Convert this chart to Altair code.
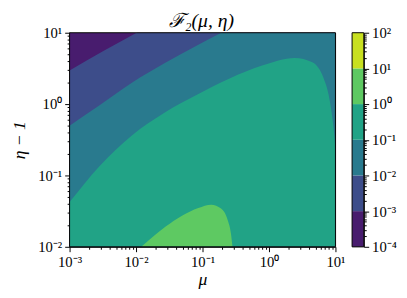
import altair as alt
import pandas as pd

# ---- data: contour lines of F2 as (mu, eta-1) ----
c3_mu = [0.001, 0.00327, 0.0102, 0.0316, 10.0]          # level 1e-3
c3_eta = [2.96, 5.6, 10.0, 18.0, 18.0]
c2_mu = [0.001, 0.00279, 0.00865, 0.0267, 0.0824, 0.192, 0.5, 10.0]   # level 1e-2
c2_eta = [0.499, 0.953, 1.99, 3.73, 6.64, 10.0, 15.8, 15.8]
c1_mu = [0.001, 0.00279, 0.00865, 0.0267, 0.0824, 0.255, 0.789, 2.44,
         4.48, 6.66, 7.89, 8.83, 9.66, 10.0]                   # level 1e-1
c1_eta = [0.0423, 0.134, 0.364, 0.757, 1.35, 2.28, 3.46, 4.42,
          3.85, 2.28, 1.35, 0.718, 0.345, 0.216]
c0_mu = [0.01197, 0.0279, 0.0491, 0.0865, 0.1355, 0.190, 0.239, 0.267, 0.282]  # level 1e0
c0_eta = [0.01, 0.0192, 0.0272, 0.035, 0.039, 0.0343, 0.0238, 0.0156, 0.01]
full_mu = [0.001, 10.0]
full_eta = [10.0, 10.0]

levels = [1e-4, 1e-3, 1e-2, 1e-1, 1e0, 1e1, 1e2]
band_colors = ["#481c6e", "#3d4d8a", "#297a8e", "#21a386", "#5ec962", "#c8e020"]

FONT = "Liberation Serif"
SUP = {-4: "⁻⁴", -3: "⁻³", -2: "⁻²", -1: "⁻¹", 0: "⁰", 1: "¹", 2: "²"}
W, H = 272, 219


def log_ticks(lo, hi):
    vals = []
    for d in range(lo, hi):
        for k in range(1, 10):
            vals.append(round(k * 10.0 ** d, 10))
    vals.append(10.0 ** hi)
    return vals


L = "log(datum.value)/LN10"
MAJOR = f"abs({L} - round({L})) < 0.01"
lab = "''"
for e, s in sorted(SUP.items(), reverse=True):
    lab = f"(round({L}) == {e} ? '10{s}' : {lab})"
LABEL_EXPR = f"{MAJOR} ? {lab} : ''"
TICK_SIZE = {"condition": {"test": MAJOR, "value": 5}, "value": 2.5}

common = dict(labelExpr=LABEL_EXPR, tickSize=TICK_SIZE, grid=False, labelFont=FONT,
              labelFontSize=15, titleFont=FONT, titleFontSize=18, titleFontStyle="italic",
              titleFontWeight="normal", labelColor="black", titleColor="black",
              tickColor="black", domainColor="black", labelPadding=3,
              labelFlush=False, labelOverlap=False)
xaxis = alt.Axis(values=log_ticks(-3, 1), title="μ", titlePadding=2, **common)
yaxis = alt.Axis(values=log_ticks(-2, 1), title="η − 1", titleX=-42, titleY=H / 2,
                 **common)


def frame(mu, eta):
    return pd.DataFrame({"mu": mu, "eta": eta, "base": [0.01] * len(mu)})


xscale = alt.Scale(type="log", domain=[1e-3, 10], nice=False)
yscale = alt.Scale(type="log", domain=[1e-2, 10], nice=False)


def band(mu, eta, color):
    return alt.Chart(frame(mu, eta)).mark_area(
        color=color, interpolate="monotone", clip=True, opacity=1
    ).encode(
        x=alt.X("mu:Q", scale=xscale, axis=xaxis),
        y=alt.Y("eta:Q", scale=yscale, axis=yaxis),
        y2="base:Q",
    )


border = alt.Chart(pd.DataFrame({"k": [0]})).mark_rect(
    fill=None, stroke="black", strokeWidth=1
).encode(x=alt.value(0), x2=alt.value(W), y=alt.value(0), y2=alt.value(H))

main = alt.layer(
    band(full_mu, full_eta, band_colors[0]),
    band(c3_mu, c3_eta, band_colors[1]),
    band(c2_mu, c2_eta, band_colors[2]),
    band(c1_mu, c1_eta, band_colors[3]),
    band(c0_mu, c0_eta, band_colors[4]),
    border,
).properties(width=W, height=H)

CBW = 12
cb_df = pd.DataFrame({"lo": levels[:-1], "hi": levels[1:], "c": band_colors})
cbar_rects = alt.Chart(cb_df).mark_rect().encode(
    y=alt.Y("lo:Q", scale=alt.Scale(type="log", domain=[1e-4, 1e2], nice=False),
            axis=alt.Axis(orient="right", values=log_ticks(-4, 2), labelExpr=LABEL_EXPR,
                          tickSize=TICK_SIZE, title=None, grid=False, labelFont=FONT,
                          labelFontSize=15, labelColor="black", tickColor="black",
                          domainColor="black", labelPadding=3, labelFlush=False,
                          labelOverlap=False)),
    y2="hi:Q",
    x=alt.value(0),
    x2=alt.value(CBW),
    color=alt.Color("c:N", scale=None),
)
cb_border = alt.Chart(pd.DataFrame({"k": [0]})).mark_rect(
    fill=None, stroke="black", strokeWidth=1
).encode(x=alt.value(0), x2=alt.value(CBW), y=alt.value(0), y2=alt.value(H))
cbar = alt.layer(cbar_rects, cb_border).properties(width=CBW, height=H)

chart = alt.hconcat(main, cbar, spacing=17, bounds="flush").properties(
    title=alt.TitleParams("ℱ₂(μ, η)", font=FONT, fontSize=20, fontStyle="italic",
                          fontWeight="normal", color="black", anchor="start", dx=162,
                          offset=-6),
    padding={"left": 2, "top": 0, "right": 2, "bottom": 2},
).configure_view(stroke=None).configure(background="white")

chart.save("out.html", embed_options={"renderer": "svg", "actions": False})
